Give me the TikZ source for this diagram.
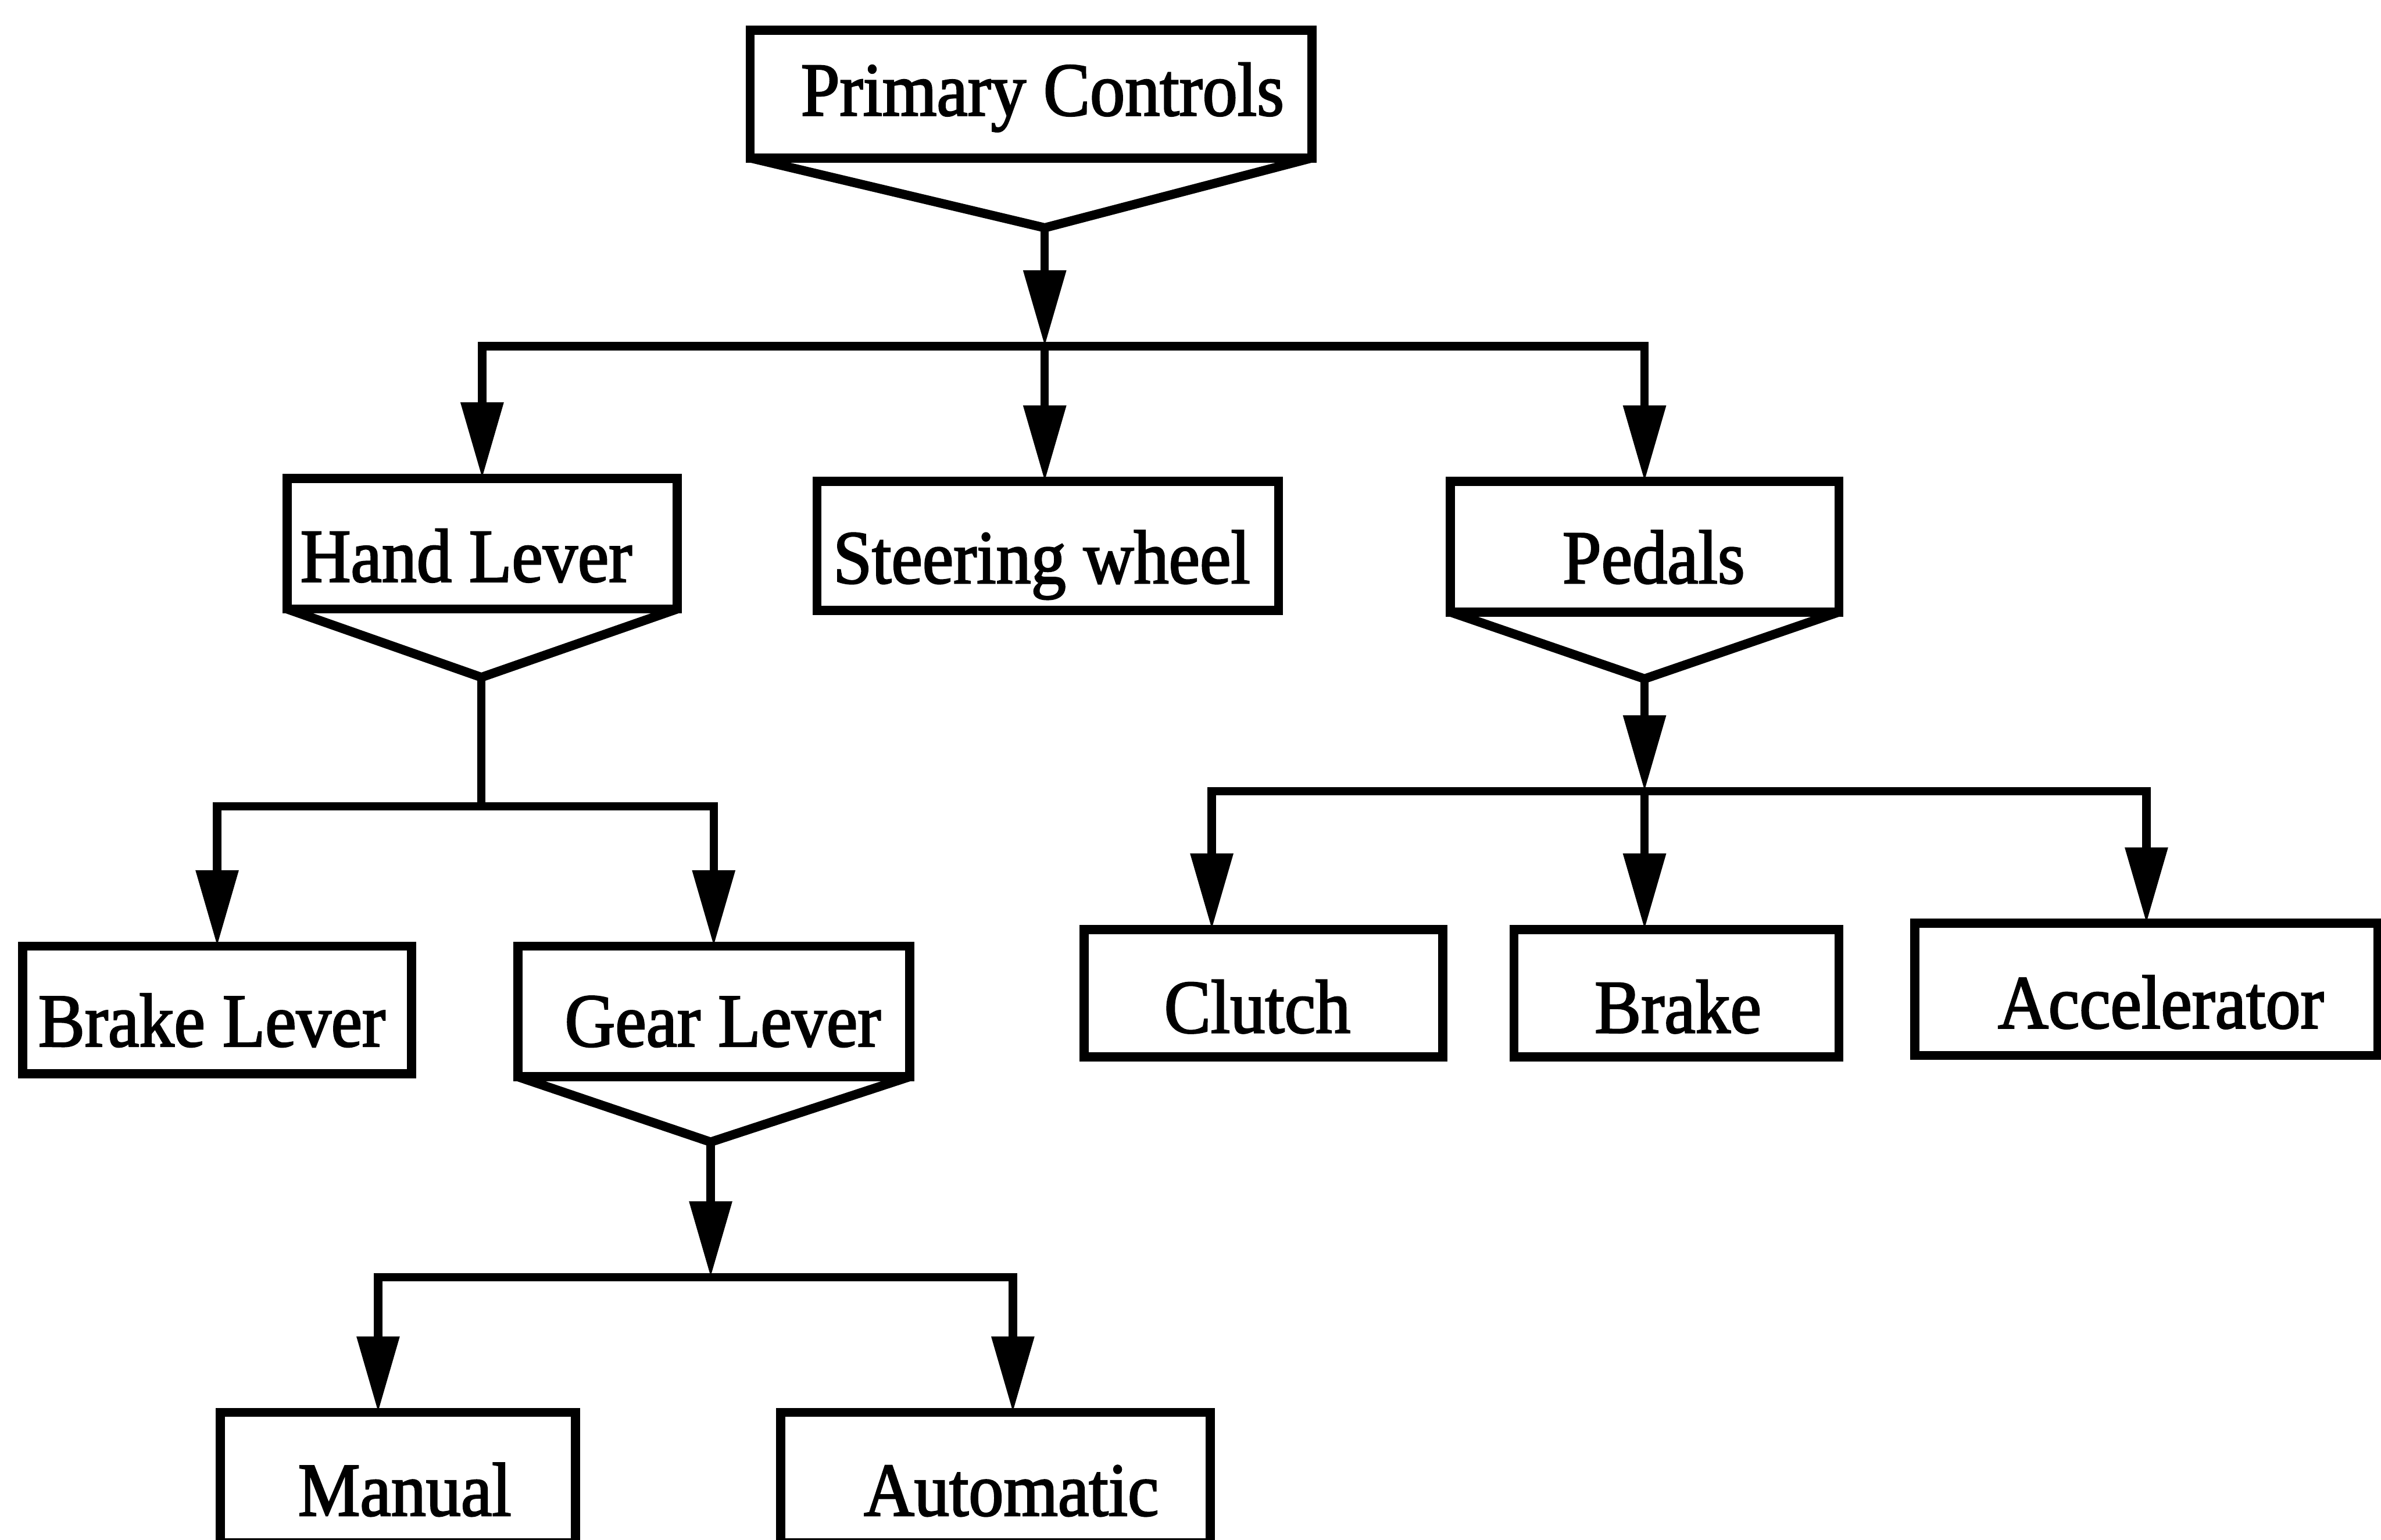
\documentclass[tikz,border=0pt]{standalone}
\usepackage{fontspec}
\setmainfont{Liberation Serif}[FakeStretch=0.92, FakeBold=2]
\usetikzlibrary{arrows.meta}
\begin{document}
\begin{tikzpicture}[x=1pt, y=-1pt,
  box/.style={draw, line width=6pt, inner sep=0pt, outer sep=0pt},
  txt/.style={font=\fontsize{50}{60}\selectfont, inner sep=0pt, outer sep=0pt, anchor=base},
  vee/.style={line width=6pt, line join=round},
  wire/.style={line width=5.5pt},
  arr/.style={wire, -{Triangle[length=50pt, width=27pt]}}]

\useasboundingbox (0,0) rectangle (1568,1014);
\clip (0,0) rectangle (1568,1014);

% boxes
\node[box, minimum width=370pt, minimum height=84pt] (pc) at (679,62) {};
\node[box, minimum width=257pt, minimum height=86pt] (hl) at (317.5,358) {};
\node[box, minimum width=304pt, minimum height=85pt] (sw) at (690,359.5) {};
\node[box, minimum width=256pt, minimum height=86pt] (pd) at (1083,360) {};
\node[box, minimum width=256pt, minimum height=84pt] (bl) at (143,665) {};
\node[box, minimum width=258pt, minimum height=86pt] (gl) at (470,666) {};
\node[box, minimum width=236pt, minimum height=84pt] (cl) at (832,654) {};
\node[box, minimum width=214pt, minimum height=84pt] (br) at (1104,654) {};
\node[box, minimum width=305pt, minimum height=87pt] (ac) at (1413.5,651.5) {};
\node[box, minimum width=234pt, minimum height=86pt] (ma) at (262,973) {};
\node[box, minimum width=283pt, minimum height=86pt] (au) at (655.5,973) {};

% box texts
\node[txt] (pc-t) at (686.5,76) {Primary Controls};
\node[txt] (hl-t) at (307,383) {Hand Lever};
\node[txt] (sw-t) at (686,384) {Steering wheel};
\node[txt] (pd-t) at (1089,384) {Pedals};
\node[txt] (bl-t) at (139.5,689) {Brake Lever};
\node[txt] (gl-t) at (476,689) {Gear Lever};
\node[txt] (cl-t) at (828,680) {Clutch};
\node[txt] (br-t) at (1105,680) {Brake};
\node[txt] (ac-t) at (1423,677) {Accelerator};
\node[txt] (ma-t) at (266.5,998) {Manual};
\node[txt] (au-t) at (666,998) {Automatic};

% funnel apexes and branching points
\coordinate (pcV) at (688,150);
\coordinate (hlV) at (317,446);
\coordinate (pdV) at (1083,447);
\coordinate (glV) at (468,752);
\coordinate (jPC) at (688,228);
\coordinate (jHL) at (317,531);
\coordinate (jPD) at (1083,521);
\coordinate (jGL) at (468,841);

% funnels under the parent boxes
\draw[vee] (pc.south west) -- (pcV) -- (pc.south east);
\draw[vee] (hl.south west) -- (hlV) -- (hl.south east);
\draw[vee] (pd.south west) -- (pdV) -- (pd.south east);
\draw[vee] (gl.south west) -- (glV) -- (gl.south east);

% Primary Controls
\draw[arr] (pcV) -- (jPC);
\draw[arr] (jPC) -| (hl.north);
\draw[arr] (jPC) -- (jPC |- sw.north);
\draw[arr] (jPC) -| (pd.north);

% Hand Lever
\draw[wire] (hlV) -- (jHL);
\draw[arr] (jHL) -| (bl.north);
\draw[arr] (jHL) -| (gl.north);

% Pedals
\draw[arr] (pdV) -- (jPD);
\draw[arr] (jPD) -| ([xshift=-34pt]cl.north);
\draw[arr] (jPD) -- (jPD |- br.north);
\draw[arr] (jPD) -| (ac.north);

% Gear Lever
\draw[arr] (glV) -- (jGL);
\draw[arr] (jGL) -| ([xshift=-13pt]ma.north);
\draw[arr] (jGL) -| ([xshift=11.5pt]au.north);
\end{tikzpicture}
\end{document}
